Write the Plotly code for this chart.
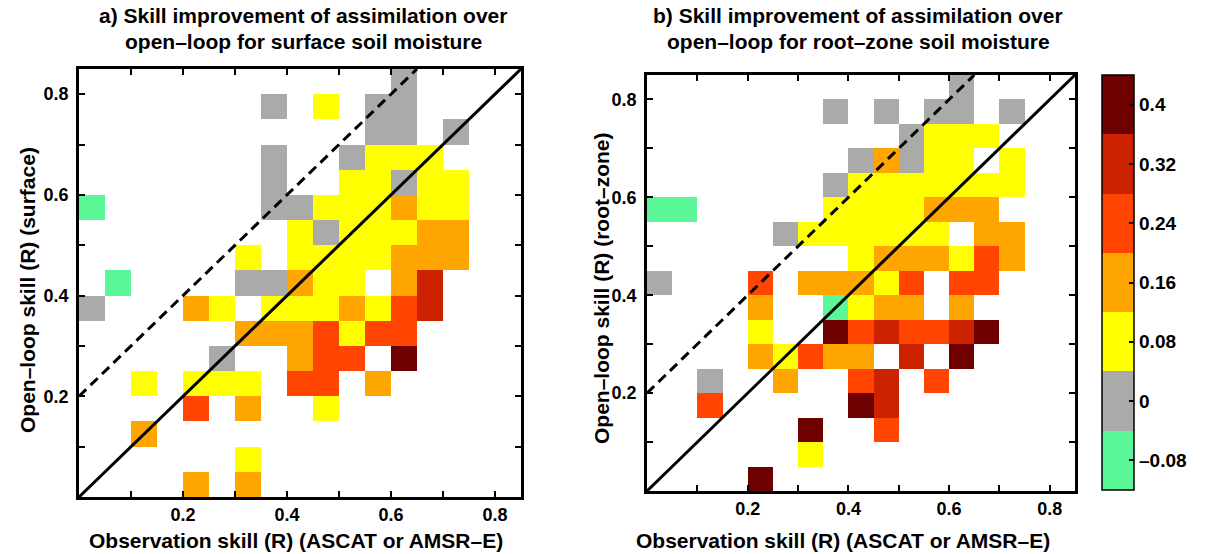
import plotly.graph_objects as go

# ---------------- data ----------------
bin_centers = [0.025, 0.075, 0.125, 0.175, 0.225, 0.275, 0.325, 0.375, 0.425,
               0.475, 0.525, 0.575, 0.625, 0.675, 0.725, 0.775, 0.825]

# a) surface soil moisture: observation skill (x), open-loop skill (y), skill gain
surf_obs = [0.625,
            0.375, 0.475, 0.575, 0.625,
            0.575, 0.625, 0.725,
            0.375, 0.525, 0.575, 0.625, 0.675,
            0.375, 0.525, 0.575, 0.625, 0.675, 0.725,
            0.025, 0.375, 0.425, 0.475, 0.525, 0.575, 0.625, 0.675, 0.725,
            0.425, 0.475, 0.525, 0.575, 0.625, 0.675, 0.725,
            0.325, 0.425, 0.475, 0.525, 0.575, 0.625, 0.675, 0.725,
            0.075, 0.325, 0.375, 0.425, 0.475, 0.525, 0.625, 0.675,
            0.025, 0.225, 0.275, 0.375, 0.425, 0.475, 0.525, 0.575, 0.625, 0.675,
            0.325, 0.375, 0.425, 0.475, 0.525, 0.575, 0.625,
            0.275, 0.425, 0.475, 0.525, 0.625,
            0.125, 0.225, 0.275, 0.325, 0.425, 0.475, 0.575,
            0.225, 0.325, 0.475,
            0.125,
            0.325,
            0.225, 0.325]
surf_ol = [0.825,
           0.775, 0.775, 0.775, 0.775,
           0.725, 0.725, 0.725,
           0.675, 0.675, 0.675, 0.675, 0.675,
           0.625, 0.625, 0.625, 0.625, 0.625, 0.625,
           0.575, 0.575, 0.575, 0.575, 0.575, 0.575, 0.575, 0.575, 0.575,
           0.525, 0.525, 0.525, 0.525, 0.525, 0.525, 0.525,
           0.475, 0.475, 0.475, 0.475, 0.475, 0.475, 0.475, 0.475,
           0.425, 0.425, 0.425, 0.425, 0.425, 0.425, 0.425, 0.425,
           0.375, 0.375, 0.375, 0.375, 0.375, 0.375, 0.375, 0.375, 0.375, 0.375,
           0.325, 0.325, 0.325, 0.325, 0.325, 0.325, 0.325,
           0.275, 0.275, 0.275, 0.275, 0.275,
           0.225, 0.225, 0.225, 0.225, 0.225, 0.225, 0.225,
           0.175, 0.175, 0.175,
           0.125,
           0.075,
           0.025, 0.025]
surf_gain = [0.0,
             0.0, 0.08, 0.0, 0.0,
             0.0, 0.0, 0.0,
             0.0, 0.0, 0.08, 0.08, 0.08,
             0.0, 0.08, 0.08, 0.0, 0.08, 0.08,
             -0.08, 0.0, 0.0, 0.08, 0.08, 0.08, 0.16, 0.08, 0.08,
             0.08, 0.0, 0.08, 0.08, 0.08, 0.16, 0.16,
             0.08, 0.08, 0.08, 0.08, 0.08, 0.16, 0.16, 0.16,
             -0.08, 0.0, 0.0, 0.16, 0.08, 0.08, 0.16, 0.32,
             0.0, 0.16, 0.08, 0.08, 0.08, 0.08, 0.16, 0.08, 0.24, 0.32,
             0.16, 0.16, 0.16, 0.24, 0.08, 0.24, 0.24,
             0.0, 0.16, 0.24, 0.24, 0.40,
             0.08, 0.08, 0.08, 0.08, 0.24, 0.24, 0.16,
             0.24, 0.16, 0.08,
             0.16,
             0.08,
             0.16, 0.16]

# b) root-zone soil moisture
root_obs = [0.625,
            0.375, 0.475, 0.575, 0.625, 0.725,
            0.525, 0.575, 0.625, 0.675,
            0.425, 0.475, 0.525, 0.575, 0.625, 0.725,
            0.375, 0.425, 0.475, 0.525, 0.575, 0.625, 0.675, 0.725,
            0.025, 0.075, 0.375, 0.425, 0.475, 0.525, 0.575, 0.625, 0.675,
            0.275, 0.325, 0.375, 0.425, 0.475, 0.525, 0.575, 0.675, 0.725,
            0.425, 0.475, 0.525, 0.575, 0.625, 0.675, 0.725,
            0.025, 0.225, 0.325, 0.375, 0.425, 0.475, 0.525, 0.625, 0.675,
            0.225, 0.375, 0.425, 0.475, 0.525, 0.625,
            0.225, 0.375, 0.425, 0.475, 0.525, 0.575, 0.625, 0.675,
            0.225, 0.275, 0.325, 0.375, 0.425, 0.525, 0.625,
            0.125, 0.275, 0.425, 0.475, 0.575,
            0.125, 0.425, 0.475,
            0.325, 0.475,
            0.325,
            0.225]
root_ol = [0.825,
           0.775, 0.775, 0.775, 0.775, 0.775,
           0.725, 0.725, 0.725, 0.725,
           0.675, 0.675, 0.675, 0.675, 0.675, 0.675,
           0.625, 0.625, 0.625, 0.625, 0.625, 0.625, 0.625, 0.625,
           0.575, 0.575, 0.575, 0.575, 0.575, 0.575, 0.575, 0.575, 0.575,
           0.525, 0.525, 0.525, 0.525, 0.525, 0.525, 0.525, 0.525, 0.525,
           0.475, 0.475, 0.475, 0.475, 0.475, 0.475, 0.475,
           0.425, 0.425, 0.425, 0.425, 0.425, 0.425, 0.425, 0.425, 0.425,
           0.375, 0.375, 0.375, 0.375, 0.375, 0.375,
           0.325, 0.325, 0.325, 0.325, 0.325, 0.325, 0.325, 0.325,
           0.275, 0.275, 0.275, 0.275, 0.275, 0.275, 0.275,
           0.225, 0.225, 0.225, 0.225, 0.225,
           0.175, 0.175, 0.175,
           0.125, 0.125,
           0.075,
           0.025]
root_gain = [0.0,
             0.0, 0.0, 0.0, 0.0, 0.0,
             0.0, 0.08, 0.08, 0.08,
             0.0, 0.16, 0.0, 0.08, 0.08, 0.08,
             0.0, 0.08, 0.08, 0.08, 0.08, 0.08, 0.08, 0.08,
             -0.08, -0.08, 0.08, 0.08, 0.08, 0.08, 0.16, 0.16, 0.16,
             0.0, 0.08, 0.08, 0.08, 0.08, 0.08, 0.08, 0.16, 0.16,
             0.08, 0.16, 0.16, 0.16, 0.08, 0.24, 0.16,
             0.0, 0.24, 0.16, 0.16, 0.16, 0.08, 0.24, 0.24, 0.24,
             0.16, -0.08, 0.08, 0.16, 0.16, 0.16,
             0.08, 0.40, 0.24, 0.32, 0.24, 0.24, 0.32, 0.40,
             0.16, 0.08, 0.24, 0.16, 0.16, 0.32, 0.40,
             0.0, 0.16, 0.24, 0.32, 0.24,
             0.24, 0.40, 0.32,
             0.40, 0.24,
             0.08,
             0.40]

# colour classes of the colour bar
cbar_ticks = [-0.08, 0.0, 0.08, 0.16, 0.24, 0.32, 0.40]
cbar_labels = ["\u20130.08", "0", "0.08", "0.16", "0.24", "0.32", "0.4"]
class_colors = ["#5AF799", "#AAAAAA", "#FFFF00", "#FFA500", "#FF4500", "#CC2200", "#6E0000"]
c_min, c_max = -0.12, 0.44

axis_ticks = [0.1, 0.2, 0.3, 0.4, 0.5, 0.6, 0.7, 0.8]
axis_labels = ["", "0.2", "", "0.4", "", "0.6", "", "0.8"]
diag_x = [0.0, 0.85]
diag_y = [0.0, 0.85]
offset_x = [0.0, 0.65]
offset_y = [0.2, 0.85]

# ---------------- figure ----------------
W, H = 1206, 554
FONT = "Liberation Sans, Arial, Helvetica, sans-serif"


def to_grid(xs, ys, vs):
    n = len(bin_centers)
    z = [[None] * n for _ in range(n)]
    for x, y, v in zip(xs, ys, vs):
        z[bin_centers.index(y)][bin_centers.index(x)] = v
    return z


nb = len(class_colors)
colorscale = []
for k, c in enumerate(class_colors):
    colorscale.append([k / nb, c])
    colorscale.append([(k + 1) / nb, c])

fig = go.Figure()
fig.add_trace(go.Heatmap(x=bin_centers, y=bin_centers, z=to_grid(surf_obs, surf_ol, surf_gain),
                         coloraxis="coloraxis", hoverongaps=False, xaxis="x", yaxis="y"))
fig.add_trace(go.Heatmap(x=bin_centers, y=bin_centers, z=to_grid(root_obs, root_ol, root_gain),
                         coloraxis="coloraxis", hoverongaps=False, xaxis="x2", yaxis="y2"))

for xa, ya in (("x", "y"), ("x2", "y2")):
    fig.add_trace(go.Scatter(x=offset_x, y=offset_y, mode="lines", xaxis=xa, yaxis=ya,
                             line=dict(color="black", width=3, dash="10px,6px"), showlegend=False))
    fig.add_trace(go.Scatter(x=diag_x, y=diag_y, mode="lines", xaxis=xa, yaxis=ya,
                             line=dict(color="black", width=3), showlegend=False))

tickfont = dict(family=FONT, size=18, color="black", weight="bold")
ax_common = dict(range=[0, 0.85], tickvals=axis_ticks, ticktext=axis_labels,
                 ticks="inside", ticklen=6, tickwidth=2, tickcolor="black",
                 mirror="allticks", showline=True, linewidth=2.5, linecolor="black",
                 showgrid=False, zeroline=False, tickfont=tickfont, fixedrange=True)


def px_x(p):
    return p / W


def px_y(p):
    return (H - p) / H


fig.update_layout(
    width=W, height=H,
    margin=dict(l=0, r=0, t=0, b=0),
    paper_bgcolor="white", plot_bgcolor="white",
    showlegend=False,
    xaxis=dict(domain=[px_x(79), px_x(521)], anchor="y", ticklabelstandoff=0, **ax_common),
    yaxis=dict(domain=[px_y(497), px_y(69)], anchor="x", ticklabelstandoff=4, **ax_common),
    xaxis2=dict(domain=[px_x(647), px_x(1075)], anchor="y2", ticklabelstandoff=0, **ax_common),
    yaxis2=dict(domain=[px_y(491), px_y(75)], anchor="x2", ticklabelstandoff=4, **ax_common),
    coloraxis=dict(
        cmin=c_min, cmax=c_max, colorscale=colorscale,
        colorbar=dict(
            x=px_x(1102), xanchor="left", xpad=0, ypad=0,
            y=px_y(282.5), yanchor="middle",
            len=415, lenmode="pixels", thickness=32, thicknessmode="pixels",
            outlinewidth=1.5, outlinecolor="black",
            tickvals=cbar_ticks, ticktext=cbar_labels,
            ticks="inside", ticklen=5, tickcolor="black", tickwidth=1.5,
            tickfont=dict(family=FONT, size=19, color="black", weight="bold"),
        ),
    ),
)

lab_font = dict(family=FONT, size=21, color="black", weight="bold")
annots = [
    dict(text="a) Skill improvement of assimilation over", x=px_x(303), y=px_y(16)),
    dict(text="open\u2013loop for surface soil moisture", x=px_x(303), y=px_y(42)),
    dict(text="b) Skill improvement of assimilation over", x=px_x(858), y=px_y(16)),
    dict(text="open\u2013loop for root\u2013zone soil moisture", x=px_x(858), y=px_y(42)),
    dict(text="Observation skill (R) (ASCAT or AMSR\u2013E)", x=px_x(296), y=px_y(540)),
    dict(text="Observation skill (R) (ASCAT or AMSR\u2013E)", x=px_x(843), y=px_y(540)),
    dict(text="Open\u2013loop skill (R) (surface)", x=px_x(27), y=px_y(290), textangle=-90),
    dict(text="Open\u2013loop skill (R) (root\u2013zone)", x=px_x(601), y=px_y(288), textangle=-90),
]
for a in annots:
    fig.add_annotation(xref="paper", yref="paper", showarrow=False, xanchor="center",
                       yanchor="middle", font=lab_font, **a)

# remove the browser's default 8px page margin so the figure sits at the window origin
fig.write_html("out.html", config={"displayModeBar": False},
               post_script="document.body.style.margin='0px';")
